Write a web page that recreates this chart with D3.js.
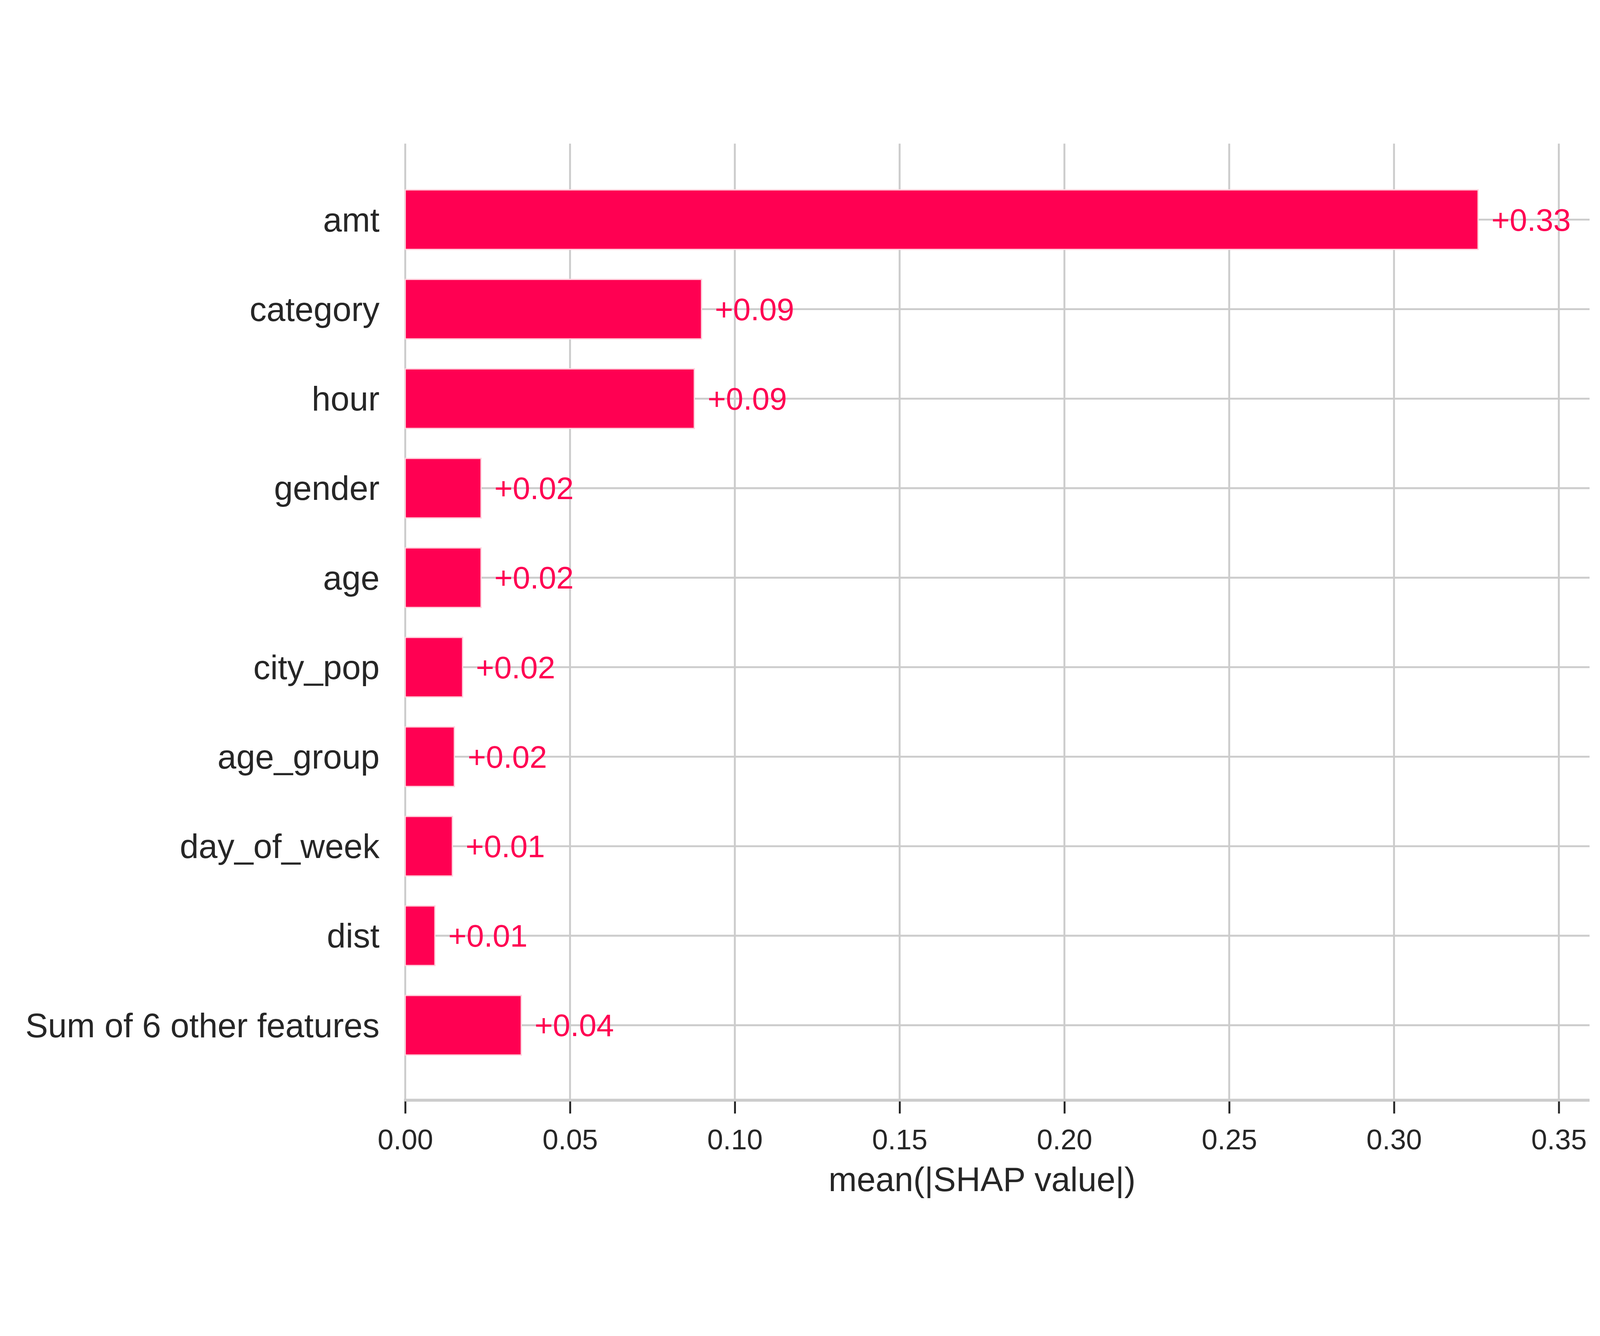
<!DOCTYPE html>
<html>
<head>
    <script src="https://cdn.jsdelivr.net/npm/d3@7"></script>
    <style>
        html, body { margin: 0; padding: 0; background: white; overflow: hidden; }
        svg { display: block; width: 100vw; height: 100vh; }
        text { font-family: 'Liberation Sans', Arial, sans-serif; }
    </style>
</head>
<body>
<div id="chart"></div>
<script>
    // data
    var features = ["amt", "category", "hour", "gender", "age", "city_pop", "age_group", "day_of_week", "dist", "Sum of 6 other features"];
    var shapValues = [0.3255, 0.0899, 0.0877, 0.0230, 0.0230, 0.0174, 0.0149, 0.0143, 0.0090, 0.0352];
    var valueLabels = ["+0.33", "+0.09", "+0.09", "+0.02", "+0.02", "+0.02", "+0.02", "+0.01", "+0.01", "+0.04"];
    var xTicks = [0, 0.05, 0.10, 0.15, 0.20, 0.25, 0.30, 0.35];

    var W = 5050, H = 3421;
    var x0 = 1279, x1 = 4920; // pixel for 0 and 0.35
    var xScale = d3.scaleLinear().domain([0, 0.35]).range([x0, x1]);
    var step = 87.3 * 3.237;
    var yScale = d3.scaleBand().domain(features)
        .range([295 - step / 2, 295 + step * 9.5]).paddingInner(0.335).paddingOuter(0.1675);
    var axisY = 3075, gridTop = 55, rightEdge = 5017;
    var red = "#ff0052";

    var svg = d3.select("#chart").append("svg")
        .attr("viewBox", "0 0 " + W + " " + H)
        .attr("preserveAspectRatio", "xMidYMid meet");

    // vertical grid
    svg.selectAll(".vgrid").data(xTicks).enter().append("line")
        .attr("x1", function (d) { return xScale(d); }).attr("x2", function (d) { return xScale(d); })
        .attr("y1", gridTop).attr("y2", axisY)
        .attr("stroke", "#cccccc").attr("stroke-width", 6);

    // horizontal grid
    svg.selectAll(".hgrid").data(features).enter().append("line")
        .attr("x1", x0).attr("x2", rightEdge)
        .attr("y1", function (d) { return yScale(d) + yScale.bandwidth() / 2; })
        .attr("y2", function (d) { return yScale(d) + yScale.bandwidth() / 2; })
        .attr("stroke", "#cccccc").attr("stroke-width", 6);

    // x axis line
    svg.append("line").attr("x1", x0 - 4).attr("x2", rightEdge).attr("y1", axisY).attr("y2", axisY)
        .attr("stroke", "#cccccc").attr("stroke-width", 9);

    // ticks
    var xAxis = d3.axisBottom(xScale).tickValues(xTicks).tickFormat(d3.format(".2f"))
        .tickSize(38).tickPadding(49);
    var gx = svg.append("g").attr("transform", "translate(0," + (axisY + 4) + ")").call(xAxis);
    gx.select(".domain").remove();
    gx.selectAll("line").attr("stroke", "#262626").attr("stroke-width", 6);
    gx.selectAll("text").attr("fill", "#262626").style("font-size", "90px");

    // bars
    svg.selectAll(".bar").data(features).enter().append("rect")
        .attr("x", x0)
        .attr("y", function (d) { return yScale(d); })
        .attr("width", function (d, i) { return xScale(shapValues[i]) - x0; })
        .attr("height", yScale.bandwidth())
        .attr("fill", red).attr("stroke", "#ffd0dc").attr("stroke-width", 4);

    // value labels
    svg.selectAll(".val").data(features).enter().append("text")
        .attr("x", function (d, i) { return xScale(shapValues[i]) + 42; })
        .attr("y", function (d) { return yScale(d) + yScale.bandwidth() / 2; })
        .attr("dy", "0.35em")
        .attr("fill", red).style("font-size", "99px")
        .text(function (d, i) { return valueLabels[i]; });

    // feature labels
    svg.selectAll(".feat").data(features).enter().append("text")
        .attr("x", 1198)
        .attr("y", function (d) { return yScale(d) + yScale.bandwidth() / 2; })
        .attr("dy", "0.35em").attr("text-anchor", "end")
        .attr("fill", "#262626").style("font-size", "107px")
        .text(function (d) { return d; });

    // x label
    svg.append("text").attr("x", xScale(0.175)).attr("y", 3362)
        .attr("text-anchor", "middle").attr("fill", "#262626").style("font-size", "107px")
        .text("mean(|SHAP value|)");
</script>
</body>
</html>
